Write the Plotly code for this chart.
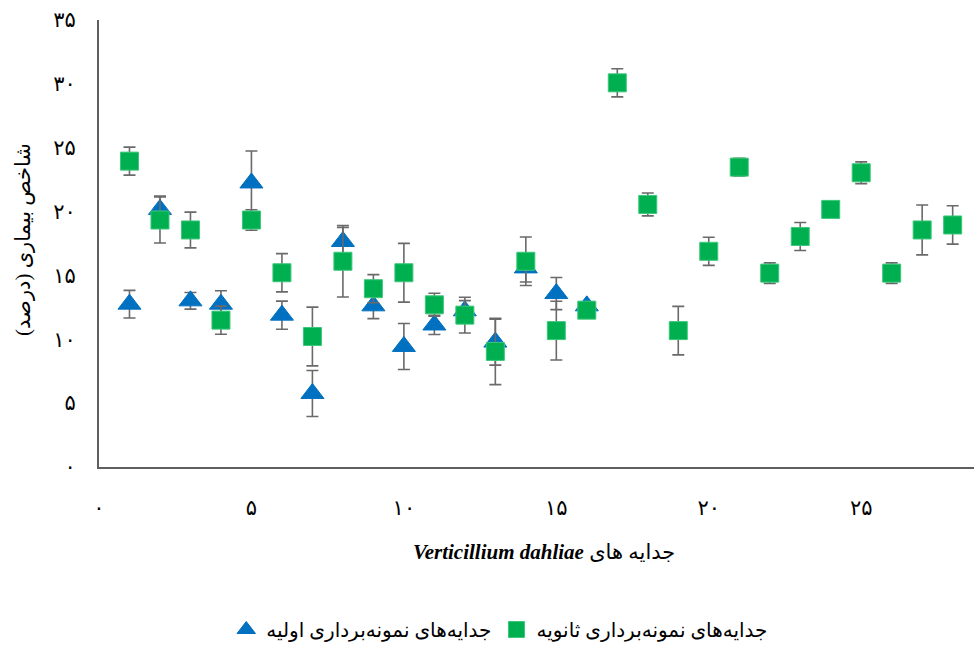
import plotly.graph_objects as go

# Isolate index on the x axis
isolates_primary = list(range(1, 17))
isolates_secondary = list(range(1, 29))

# Disease index (%) of the first-sampling isolates and their error
primary_values = [12.75, 20.17, 13.01, 12.75, 22.24, 11.89, 5.76, 17.66,
                  12.62, 9.44, 11.12, 12.23, 9.78, 15.59, 13.58, 12.62]
primary_errors = [1.08, 1.04, 0.65, 1.05, 2.5, 1.1, 1.8, 1.1,
                  1.0, 1.8, 0.75, 0.8, 1.8, 1.1, 1.26, 0.3]

# Disease index (%) of the second-sampling isolates and their error
secondary_values = [23.95, 19.34, 18.56, 11.5, 19.34, 15.21, 10.22, 16.11,
                    13.96, 15.21, 12.7, 11.89, 9.05, 16.11, 10.68, 12.28,
                    30.08, 20.56, 10.68, 16.89, 23.48, 15.18, 18.05, 20.17,
                    23.04, 15.18, 18.56, 18.95]
secondary_errors = [1.1, 1.8, 1.4, 1.1, 0.8, 1.5, 2.3, 2.8,
                    1.1, 2.3, 0.9, 1.4, 2.6, 1.9, 2.3, 0.4,
                    1.1, 0.9, 1.9, 1.1, 0.7, 0.8, 1.1, 0.5,
                    0.85, 0.8, 1.95, 1.5]

# Axis tick labels in Persian digits
x_tickvals = [0, 5, 10, 15, 20, 25]
x_ticktext = ["۰", "۵", "۱۰", "۱۵", "۲۰", "۲۵"]
y_tickvals = [0, 5, 10, 15, 20, 25, 30, 35]
y_ticktext = ["۰", "۵", "۱۰", "۱۵", "۲۰", "۲۵", "۳۰", "۳۵"]

name_primary = "جدایه‌های نمونه‌برداری اولیه"
name_secondary = "جدایه‌های نمونه‌برداری ثانویه"
x_title = "<b><i>Verticillium dahliae</i></b> جدایه های"
y_title = "\u200fشاخص بیماری (درصد)\u200f"

BLUE = "#0070C0"
GREEN = "#00B050"
ERR = "#6a6a6a"
FONT = "Liberation Serif, DejaVu Sans, serif"

fig = go.Figure()
fig.add_trace(go.Scatter(
    x=isolates_primary, y=primary_values, mode="markers", name=name_primary,
    marker=dict(symbol="triangle-up", size=20, color=BLUE,
                line=dict(color=BLUE, width=1)),
    error_y=dict(type="data", array=primary_errors, visible=True,
                 color=ERR, thickness=1.6, width=6),
))
fig.add_trace(go.Scatter(
    x=isolates_secondary, y=secondary_values, mode="markers", name=name_secondary,
    marker=dict(symbol="square", size=18, color=GREEN,
                line=dict(color="#3cc77a", width=1)),
    error_y=dict(type="data", array=secondary_errors, visible=True,
                 color=ERR, thickness=1.6, width=6),
))

fig.update_layout(
    width=974, height=649,
    margin=dict(l=99, r=0, t=20, b=178),
    paper_bgcolor="white", plot_bgcolor="white",
    font=dict(family=FONT, size=17, color="black"),
    showlegend=True,
    legend=dict(orientation="h", x=0.458, xanchor="center", y=-0.365,
                yanchor="middle", font=dict(size=20, family=FONT),
                bgcolor="rgba(0,0,0,0)"),
    annotations=[
        dict(text=x_title, xref="paper", yref="paper", x=0.509, y=-0.19,
             xanchor="center", yanchor="middle", showarrow=False,
             font=dict(size=21, family=FONT)),
        dict(text=y_title, xref="paper", yref="paper", x=-0.087, y=0.51,
             xanchor="center", yanchor="middle", showarrow=False,
             textangle=-90, font=dict(size=21, family=FONT)),
    ],
)
fig.update_xaxes(
    range=[0, 28.7], tickvals=x_tickvals, ticktext=x_ticktext,
    showgrid=False, zeroline=False, showline=True, linecolor="#5f5f5f",
    linewidth=2, ticks="", ticklabelstandoff=21,
    tickfont=dict(size=21, family=FONT),
)
fig.update_yaxes(
    range=[0, 35], tickvals=y_tickvals, ticktext=y_ticktext,
    showgrid=False, zeroline=False, showline=True, linecolor="#5f5f5f",
    linewidth=2, ticks="", ticklabelstandoff=17,
    tickfont=dict(size=21, family=FONT),
)

fig.write_html("out.html")
